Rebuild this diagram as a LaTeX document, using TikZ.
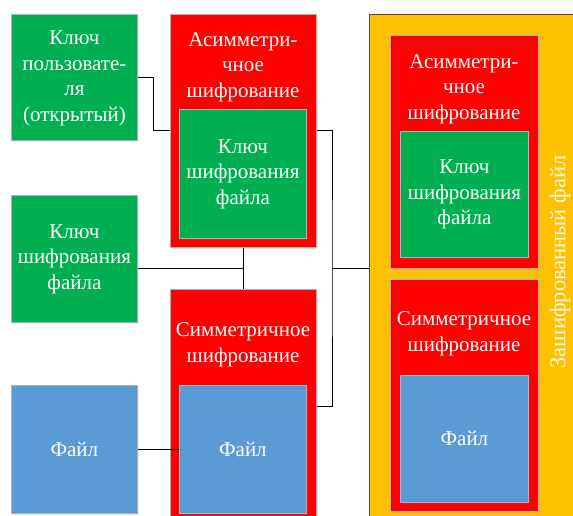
\documentclass[tikz,border=0pt]{standalone}
\usepackage{fontspec}
\setmainfont{Liberation Serif}
\newfontfamily\lblfont{Liberation Serif}
\usetikzlibrary{shadows,calc}
\definecolor{boxgreen}{HTML}{00B050}
\definecolor{boxred}{HTML}{FF0000}
\definecolor{boxblue}{HTML}{5B9BD5}
\definecolor{boxyellow}{HTML}{FFC000}
\definecolor{boxedge}{HTML}{A8B4C4}
\begin{document}
\begin{tikzpicture}[x=1pt,y=-1pt,
  blk/.style={draw=boxedge, line width=0.8pt, anchor=north west, inner sep=0pt,
    drop shadow={opacity=0.18, shadow xshift=1.5pt, shadow yshift=-2pt}},
  greenblk/.style={blk, fill=boxgreen},
  redblk/.style={blk, fill=boxred},
  blueblk/.style={blk, fill=boxblue},
  lbl/.style={text=white, align=center, inner sep=0pt, font=\lblfont\fontsize{21}{25.5}\selectfont},
  wire/.style={draw=black, line width=0.9pt}]
\useasboundingbox (0,0) rectangle (573,515);

% encrypted file container
\node[anchor=north west, fill=boxyellow, draw=black!70, line width=0.9pt, inner sep=0pt,
  minimum width=230pt, minimum height=530pt] (cont) at (369,14) {};
\node[lbl, rotate=90, text=white!92!boxyellow, font=\lblfont\fontsize{22.5}{27}\selectfont]
  (contlbl) at (560,262) {Зашифрованный файл};

% left column: inputs
\node[greenblk, minimum width=126pt, minimum height=126pt] (ukey) at (11,14) {};
\node[lbl] (ukeylbl) at ([yshift=-1pt]ukey.center) {Ключ\\пользовате-\\ля\\(открытый)};
\node[greenblk, minimum width=126pt, minimum height=127pt] (fkey) at (11,195) {};
\node[lbl] (fkeylbl) at (fkey.center) {Ключ\\шифрования\\файла};
\node[blueblk, minimum width=126pt, minimum height=128pt] (file) at (11,385) {};
\node[lbl] (filelbl) at (file.center) {Файл};

% middle column: encryption stages
\node[redblk, minimum width=146pt, minimum height=233pt] (asym) at (170,14) {};
\node[lbl] (asymlbl) at (243,67) {Асимметри-\\чное\\шифрование};
\node[greenblk, minimum width=127pt, minimum height=129pt] (akey) at (179,109) {};
\node[lbl] (akeylbl) at (akey.center) {Ключ\\шифрования\\файла};

\node[redblk, minimum width=146pt, minimum height=240pt] (sym) at (170,289) {};
\node[lbl] (symlbl) at (243,345) {Симметричное\\шифрование};
\node[blueblk, minimum width=127pt, minimum height=128pt] (sfile) at (179,385) {};
\node[lbl] (sfilelbl) at (sfile.center) {Файл};

% right column: contents of the encrypted file
\node[redblk, minimum width=148pt, minimum height=233pt] (casym) at (390,35) {};
\node[lbl] (casymlbl) at (464,89) {Асимметри-\\чное\\шифрование};
\node[greenblk, minimum width=128pt, minimum height=126pt] (ckey) at (400,131) {};
\node[lbl] (ckeylbl) at (ckey.center) {Ключ\\шифрования\\файла};

\node[redblk, minimum width=148pt, minimum height=232pt] (csym) at (390,279) {};
\node[lbl] (csymlbl) at (464,334) {Симметричное\\шифрование};
\node[blueblk, minimum width=128pt, minimum height=127pt] (cfile) at (400,375) {};
\node[lbl] (cfilelbl) at (cfile.center) {Файл};

% connectors
\coordinate (bus) at (332,268);
\draw[wire] (ukey.east) -- ++(16,0) |- (asym.west |- 0,130);
\draw[wire] (asym.east |- 0,130) -| (bus) |- (sym.east |- 0,406);
\draw[wire] (bus) -- (cont.west |- bus);
\draw[wire] (fkey.east |- bus) -- (asym.south |- bus);
\draw[wire] (asym.south) -- (sym.north);
\draw[wire] (file.east) -- (sfile.west);
\end{tikzpicture}
\end{document}
